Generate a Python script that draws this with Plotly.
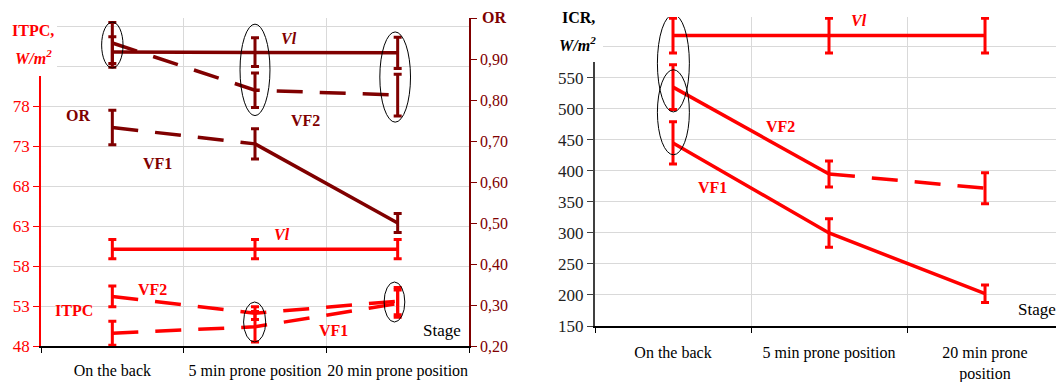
import plotly.graph_objects as go

# ---- data -------------------------------------------------------------
stages = ["On the back", "5 min prone position", "20 min prone position"]
stages_icr = ["On the back", "5 min prone position", "20 min prone<br>position"]

# ITPC, W/m2 (left axis)
itpc_vl = [60.1, 60.1, 60.1]
itpc_vl_err = [1.2, 1.2, 1.2]
itpc_vf1 = [49.6, 50.4, 53.3]
itpc_vf1_err = [1.5, 1.9, 1.7]
itpc_vf2 = [54.2, 52.1, 53.6]
itpc_vf2_err = [1.3, 0.8, 1.7]

# OR (right axis)
or_vl = [0.917, 0.917, 0.915]
or_vl_err = [0.037, 0.035, 0.038]
or_vf1 = [0.733, 0.693, 0.50]
or_vf1_err = [0.042, 0.037, 0.023]
or_vf2 = [0.939, 0.824, 0.812]
or_vf2_err = [0.05, 0.042, 0.051]

# ICR, W/m2
icr_vl = [618, 618, 618]
icr_vl_err = [28, 28, 28]
icr_vf1 = [445, 300, 202]
icr_vf1_err = [34, 23, 14]
icr_vf2 = [535, 395, 372]
icr_vf2_err = [36, 21, 25]

# labelled ticks, plus unlabelled ticks/gridlines under the axis titles
itpc_ticks = [48, 53, 58, 63, 68, 73, 78]
itpc_extra = [83, 88]
or_ticks = [0.2, 0.3, 0.4, 0.5, 0.6, 0.7, 0.8, 0.9]
or_extra = [1.0]
icr_ticks = [150, 200, 250, 300, 350, 400, 450, 500, 550]
icr_extra = [600]

# ---- styles -----------------------------------------------------------
RED = "#FF0000"
MAROON = "#800000"
GRID = "#D9D9D9"
FONT = "Liberation Serif, Times New Roman, serif"
DASH = "26px,17px"
W, H = 1056, 382

fig = go.Figure()


def add_series(xs, ys, err, color, styles, xaxis, yaxis):
    """Draw a series: line segments grouped by style, then error bars."""
    i = 0
    while i < len(styles):
        j = i
        while j + 1 < len(styles) and styles[j + 1] == styles[i]:
            j += 1
        fig.add_trace(go.Scatter(
            x=xs[i:j + 2], y=ys[i:j + 2], mode="lines",
            line=dict(color=color, width=3.5,
                      dash=DASH if styles[i] == "dash" else "solid"),
            xaxis=xaxis, yaxis=yaxis, showlegend=False, hoverinfo="skip"))
        i = j + 1
    fig.add_trace(go.Scatter(
        x=xs, y=ys, mode="markers",
        marker=dict(size=1, color=color, opacity=0),
        error_y=dict(type="data", array=err, color=color, thickness=3, width=4),
        xaxis=xaxis, yaxis=yaxis, showlegend=False, hoverinfo="skip"))


# left panel: ITPC (red, left axis) and OR (maroon, right axis)
add_series(stages, itpc_vl, itpc_vl_err, RED, ["solid", "solid"], "x", "y")
add_series(stages, itpc_vf2, itpc_vf2_err, RED, ["dash", "dash"], "x", "y")
add_series(stages, itpc_vf1, itpc_vf1_err, RED, ["dash", "dash"], "x", "y")
add_series(stages, or_vl, or_vl_err, MAROON, ["solid", "solid"], "x", "y2")
add_series(stages, or_vf2, or_vf2_err, MAROON, ["dash", "dash"], "x", "y2")
add_series(stages, or_vf1, or_vf1_err, MAROON, ["dash", "solid"], "x", "y2")

# right panel: ICR
add_series(stages_icr, icr_vl, icr_vl_err, RED, ["solid", "solid"], "x2", "y3")
add_series(stages_icr, icr_vf2, icr_vf2_err, RED, ["solid", "dash"], "x2", "y3")
add_series(stages_icr, icr_vf1, icr_vf1_err, RED, ["solid", "solid"], "x2", "y3")

# ---- axes -------------------------------------------------------------
xcommon = dict(type="category", tickson="boundaries", ticks="outside", ticklen=5,
               tickcolor="black", showline=True, linecolor="black", linewidth=1.5,
               showgrid=True, gridcolor=GRID, gridwidth=1, tickangle=0,
               automargin=False,
               tickfont=dict(family=FONT, size=16, color="black"), fixedrange=True)

fig.update_layout(
    font=dict(family=FONT, size=16),
    xaxis=dict(domain=[41 / W, 469 / W], anchor="y", range=[-0.5, 2.5],
               ticklabelstandoff=9, **xcommon),
    xaxis2=dict(domain=[595 / W, 1.0], anchor="y3", range=[-0.5, 2.455],
                ticklabelstandoff=11, **xcommon),
    yaxis=dict(domain=[1 - 346 / H, 1 - 18 / H], anchor="x", range=[48, 89],
               tickvals=itpc_ticks,
               ticks="outside", ticklen=6, tickcolor=RED, automargin=False,
               showline=True, linecolor=RED, linewidth=1.5,
               showgrid=True, gridcolor=GRID, gridwidth=1, zeroline=False,
               minor=dict(tickvals=itpc_extra, showgrid=True, gridcolor=GRID,
                          gridwidth=1, ticks=""),
               tickfont=dict(family=FONT, size=17, color=RED)),
    yaxis2=dict(overlaying="y", side="right", anchor="x", range=[0.2, 1.0],
                tickvals=or_ticks,
                ticktext=[f"{v:.2f}".replace(".", ",") for v in or_ticks],
                ticks="outside", ticklen=6, tickcolor=MAROON, automargin=False,
                showline=True, linecolor=MAROON, linewidth=1.5,
                showgrid=False, zeroline=False,
                minor=dict(tickvals=or_extra, ticks="outside", ticklen=6,
                           tickcolor=MAROON, showgrid=False),
                tickfont=dict(family=FONT, size=16, color=MAROON)),
    yaxis3=dict(domain=[1 - 326 / H, 1 - 17 / H], anchor="x2", range=[150, 648],
                tickvals=icr_ticks,
                ticks="outside", ticklen=6, tickcolor="#404040", automargin=False,
                showline=True, linecolor="#404040", linewidth=2,
                showgrid=True, gridcolor=GRID, gridwidth=1, zeroline=False,
                minor=dict(tickvals=icr_extra, showgrid=True, gridcolor=GRID,
                           gridwidth=1, ticks=""),
                tickfont=dict(family=FONT, size=17, color="#222222")),
    width=W, height=H, margin=dict(l=0, r=0, t=0, b=0),
    paper_bgcolor="white", plot_bgcolor="white", showlegend=False,
)

# ---- ellipses marking overlapping error bars ----------------------------
ellipses = [
    # (xref, yref, x0, x1, y0, y1)
    ("x", "y2", -0.075, 0.075, 0.878, 0.99),
    ("x", "y2", 0.895, 1.105, 0.762, 0.985),
    ("x", "y2", 1.875, 2.09, 0.746, 0.966),
    ("x", "y", 0.92, 1.075, 48.5, 53.5),
    ("x", "y", 1.905, 2.05, 51.0, 56.0),
    ("x2", "y3", -0.1, 0.105, 495, 652),
    ("x2", "y3", -0.1, 0.105, 426, 563),
]
for xr, yr, x0, x1, y0, y1 in ellipses:
    fig.add_shape(type="circle", xref=xr, yref=yr, x0=x0, x1=x1, y0=y0, y1=y1,
                  line=dict(color="black", width=1), layer="above")

# white boxes behind the axis titles
fig.add_shape(type="rect", xref="paper", yref="paper",
              x0=0, x1=57 / W, y0=1 - 76 / H, y1=1,
              fillcolor="white", line=dict(width=0), layer="above")
fig.add_shape(type="rect", xref="paper", yref="paper",
              x0=540 / W, x1=603 / W, y0=1 - 62 / H, y1=1,
              fillcolor="white", line=dict(width=0), layer="above")

# ---- text labels ------------------------------------------------------
def label(text, x, y, color, xref, yref, size=16, bold=True, italic=False):
    t = text
    if bold:
        t = f"<b>{t}</b>"
    if italic:
        t = f"<i>{t}</i>"
    fig.add_annotation(text=t, x=x, y=y, xref=xref, yref=yref, showarrow=False,
                       font=dict(family=FONT, size=size, color=color),
                       xanchor="center", yanchor="middle")


label("ITPC,", 33 / W, 1 - 30 / H, RED, "paper", "paper")
label("W/m<sup>2</sup>", 33 / W, 1 - 57 / H, RED, "paper", "paper", italic=True)
label("OR", 494 / W, 1 - 17 / H, MAROON, "paper", "paper")
label("ICR,", 578 / W, 1 - 17 / H, "black", "paper", "paper")
label("W/m<sup>2</sup>", 577 / W, 1 - 44 / H, "black", "paper", "paper", italic=True)

label("Vl", 1.238, 0.951, MAROON, "x", "y2", italic=True)
label("VF2", 1.357, 0.751, MAROON, "x", "y2")
label("OR", -0.241, 0.763, MAROON, "x", "y2")
label("VF1", 0.32, 0.646, MAROON, "x", "y2")
label("Vl", 1.19, 61.9, RED, "x", "y", italic=True)
label("VF2", 0.285, 55.1, RED, "x", "y")
label("ITPC", -0.27, 52.5, RED, "x", "y")
label("VF1", 1.547, 49.9, RED, "x", "y")
label("Stage", 2.31, 49.9, "black", "x", "y", size=17, bold=False)

label("VF2", 0.692, 471, RED, "x2", "y3")
label("VF1", 0.25, 374, RED, "x2", "y3")
label("Vl", 1.19, 642, RED, "x2", "y3", italic=True)
label("Stage", 2.33, 176, "black", "x2", "y3", size=17, bold=False)

fig.write_html("out.html")
